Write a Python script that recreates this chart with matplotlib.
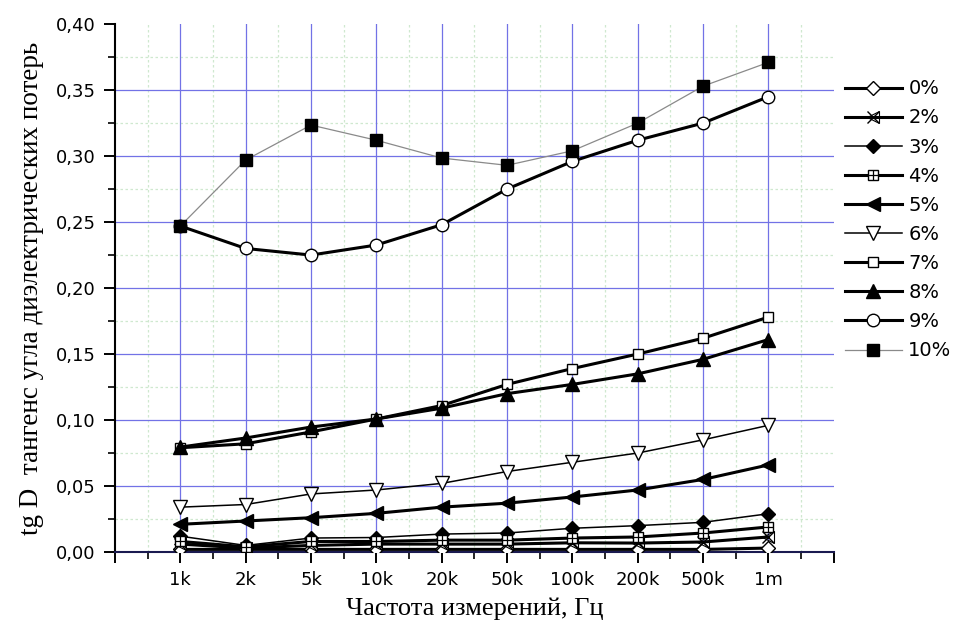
import matplotlib
matplotlib.use("Agg")
import matplotlib.pyplot as plt
from matplotlib.ticker import MultipleLocator, FixedLocator
from matplotlib.legend_handler import HandlerTuple

# Measurement frequencies (category axis)
freq_labels = ["1k", "2k", "5k", "10k", "20k", "50k", "100k", "200k", "500k", "1m"]

# Dielectric loss tangent for each filler content
tg_0 = [0.002, 0.002, 0.002, 0.002, 0.002, 0.002, 0.002, 0.002, 0.002, 0.003]
tg_2 = [0.006, 0.003, 0.005, 0.006, 0.006, 0.006, 0.007, 0.0068, 0.0076, 0.0114]
tg_3 = [0.012, 0.005, 0.0106, 0.011, 0.0136, 0.0144, 0.018, 0.020, 0.0225, 0.029]
tg_4 = [0.008, 0.004, 0.008, 0.008, 0.009, 0.009, 0.0106, 0.0114, 0.0144, 0.019]
tg_5 = [0.021, 0.0235, 0.026, 0.0293, 0.034, 0.037, 0.0417, 0.047, 0.055, 0.066]
tg_6 = [0.034, 0.036, 0.044, 0.047, 0.052, 0.061, 0.068, 0.075, 0.085, 0.096]
tg_7 = [0.079, 0.082, 0.091, 0.1008, 0.111, 0.127, 0.139, 0.150, 0.162, 0.178]
tg_8 = [0.0795, 0.0864, 0.0947, 0.1008, 0.109, 0.120, 0.127, 0.135, 0.146, 0.161]
tg_9 = [0.247, 0.230, 0.225, 0.2326, 0.248, 0.275, 0.296, 0.312, 0.325, 0.345]
tg_10 = [0.247, 0.297, 0.3235, 0.312, 0.2985, 0.293, 0.304, 0.325, 0.353, 0.371]

series_labels = ["0%", "2%", "3%", "4%", "5%", "6%", "7%", "8%", "9%", "10%"]

x = list(range(1, len(freq_labels) + 1))

fig = plt.figure(figsize=(9.54, 6.34), dpi=100)
ax = fig.add_axes([0.1205, 0.1293, 0.7535, 0.8327])

GRID_BLUE = "#7272e6"
GRID_MINOR = "#cfe8cf"

ax.set_xlim(0, 11)
ax.set_ylim(0, 0.40)

# grid
for xv in x:
    ax.axvline(xv, color=GRID_BLUE, lw=0.9, zorder=1)
for i in range(0, 11):
    ax.axvline(i + 0.5, color=GRID_MINOR, lw=0.9, ls=(0, (2, 2)), zorder=0.5)
for k in range(1, 8):
    ax.axhline(k * 0.05, color=GRID_BLUE, lw=0.9, zorder=1)
for k in range(0, 8):
    ax.axhline(k * 0.05 + 0.025, color=GRID_MINOR, lw=0.9, ls=(0, (2, 2)), zorder=0.5)

THICK = 2.2
THIN = 1.1
MS = 8.5


def draw(vals, lw, marker, face, color="black", ms=MS, mew=1.0):
    (h,) = ax.plot(x, vals, color=color, lw=lw, marker=marker, markersize=ms,
                   markerfacecolor=face, markeredgecolor="black", markeredgewidth=mew,
                   zorder=3)
    return h


h0 = draw(tg_0, THICK, "D", "white", ms=7.5)
h2 = draw(tg_2, THICK, "x", "none", ms=8.5)
h2b, = ax.plot(x, tg_2, ls="none", marker="<", markersize=8.5, markerfacecolor="none",
               markeredgecolor="black", markeredgewidth=0.8, zorder=3)
h3 = draw(tg_3, THIN, "D", "black", ms=7.5)
h4 = draw(tg_4, THICK, "s", "white", ms=7.5)
h4b, = ax.plot(x, tg_4, ls="none", marker="+", markersize=7.5, markeredgecolor="black",
               markeredgewidth=0.9, zorder=3)
h5 = draw(tg_5, THICK, "<", "black", ms=9.5)
h6 = draw(tg_6, THIN, "v", "white", ms=9.5)
h7 = draw(tg_7, THICK, "s", "white", ms=7.5)
h8 = draw(tg_8, THICK, "^", "black", ms=9.5)
h9 = draw(tg_9, THICK, "o", "white", ms=9)
h10 = draw(tg_10, 0.9, "s", "black", color="#8a8a8a", ms=8)

handles = [h0, (h2, h2b), h3, (h4, h4b), h5, h6, h7, h8, h9, h10]

# axes styling
for side in ("top", "right"):
    ax.spines[side].set_visible(False)
ax.spines["left"].set_linewidth(1.5)
ax.spines["bottom"].set_linewidth(1.5)
ax.spines["bottom"].set_color("#1a1a50")

ax.xaxis.set_major_locator(FixedLocator(list(range(0, 12))))
ax.xaxis.set_minor_locator(FixedLocator([i + 0.5 for i in range(0, 11)]))
ax.set_xticklabels([""] + freq_labels + [""])
ax.yaxis.set_major_locator(MultipleLocator(0.05))
ax.yaxis.set_minor_locator(MultipleLocator(0.025))
ax.yaxis.set_major_formatter(plt.FuncFormatter(lambda v, p: f"{v:.2f}".replace(".", ",")))
ax.tick_params(axis="both", which="major", direction="out", length=8, width=1.4,
               labelsize=13, pad=6)
ax.tick_params(axis="both", which="minor", direction="out", length=5, width=1.2)
for lab in ax.get_xticklabels() + ax.get_yticklabels():
    lab.set_family("DejaVu Sans")

ax.set_xlabel("Частота измерений, Гц", family="Liberation Serif", fontsize=19, labelpad=6)
ax.set_ylabel("tg D  тангенс угла диэлектрических потерь", family="Liberation Serif",
              fontsize=19.5, labelpad=8)

leg = ax.legend(handles, series_labels, handler_map={tuple: HandlerTuple(ndivide=1)},
                loc="upper left", bbox_to_anchor=(1.005, 0.91), frameon=False,
                prop={"family": "DejaVu Sans", "size": 14},
                handlelength=2.9, handletextpad=0.35, labelspacing=0.52, borderaxespad=0)

fig.savefig("out.png", dpi=100)
